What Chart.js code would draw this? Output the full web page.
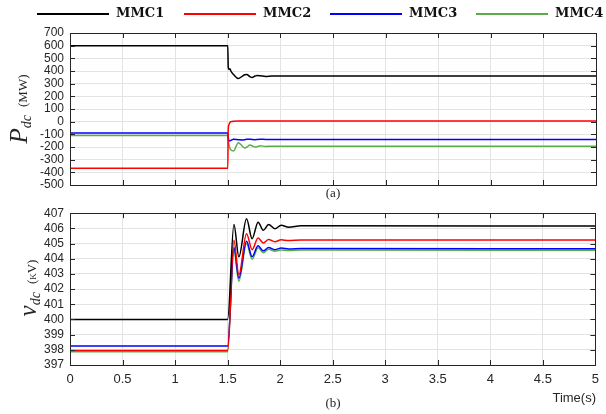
<!DOCTYPE html>
<html>
<head>
<meta charset="utf-8">
<script src="https://cdn.jsdelivr.net/npm/chart.js@4"></script>
<style>
  body { margin: 0; background: #fff; }
  #wrap { position: relative; width: 606px; height: 414px; overflow: hidden; }
  canvas { position: absolute; left: 0; }
  #topCanvas { top: 0; }
  #botCanvas { top: 200px; }
  .leg-line { position: absolute; height: 2px; top: 13px; width: 72px; }
  .leg-text { position: absolute; top: 5px; font: bold 13px "DejaVu Serif", serif; color: #111; }
  .ytitle { position: absolute; transform: translate(-50%, -50%) rotate(-90deg); white-space: nowrap;
            font-family: "Liberation Serif", serif; color: #262626; line-height: 1; }
  .ytitle .big { font-size: 25px; font-style: italic; }
  .ytitle sub { font-size: 14px; font-style: italic; vertical-align: -4px; }
  .ytitle .unit { font-size: 13px; font-variant: small-caps; margin-left: 8px; }
  .cap { position: absolute; font: 13px "Liberation Serif", serif; color: #262626; transform: translate(-50%, -50%); }
  #timeLbl { position: absolute; right: 10px; top: 390px; font: 13px "Liberation Sans", sans-serif; color: #262626; }
</style>
</head>
<body>
<div id="wrap">
  <canvas id="topCanvas" width="606" height="200"></canvas>
  <canvas id="botCanvas" width="606" height="214"></canvas>

  <div id="legend"></div>

  <div class="ytitle" style="left:20px; top:109px;"><span class="big">P</span><sub>dc</sub><span class="unit">(MW)</span></div>
  <div class="ytitle" style="left:29px; top:288px;"><span class="big">v</span><sub>dc</sub><span class="unit">(kV)</span></div>

  <div class="cap" style="left:333px; top:193px;">(a)</div>
  <div class="cap" style="left:333px; top:403px;">(b)</div>
  <div id="timeLbl">Time(s)</div>
</div>

<script>
// series names and colours
const names = ['MMC1', 'MMC2', 'MMC3', 'MMC4'];
const colors = ['#000000', '#ff0000', '#0000ff', '#5aae48'];

// (a) DC power, MW
const timeP = [0, 1.5, 1.504, 1.51, 1.52, 1.53, 1.555, 1.6, 1.64, 1.66, 1.68, 1.71, 1.73, 1.76, 1.78, 1.81, 1.86, 1.92, 2.0, 5];
const pMMC1 = [600, 600, 430, 412, 418, 398, 372, 341, 360, 370, 373, 356, 349, 360, 365, 362, 357, 361, 360, 360];
const pMMC2 = [-368, -368, -60, -25, -6, 0, 4, 5, 5, 5, 5, 5, 5, 5, 5, 5, 5, 5, 5, 5];
const pMMC3 = [-90, -90, -125, -148, -152, -148, -139, -142, -144, -142, -139, -138, -141, -142, -140, -139, -140, -140, -140, -140];
const pMMC4 = [-110, -110, -150, -180, -210, -224, -231, -166, -195, -207, -201, -185, -190, -200, -197, -190, -196, -194, -195, -195];

// (b) DC voltage, kV
const timeV = [0, 1.5, 1.56, 1.607, 1.68, 1.733, 1.79, 1.84, 1.89, 1.95, 2.01, 2.08, 2.2, 5];
const vMMC1 = [400, 400, 406.26, 404.13, 406.63, 405.32, 406.41, 405.87, 406.26, 405.98, 406.2, 406.08, 406.18, 406.15];
const vMMC2 = [397.95, 397.95, 405.22, 402.94, 405.65, 404.6, 405.37, 405.04, 405.26, 405.12, 405.25, 405.2, 405.24, 405.23];
const vMMC3 = [398.25, 398.25, 404.74, 402.72, 405.15, 404.13, 404.85, 404.52, 404.74, 404.6, 404.7, 404.64, 404.67, 404.66];
const vMMC4 = [397.88, 397.88, 404.6, 402.52, 405.0, 403.97, 404.72, 404.4, 404.62, 404.5, 404.58, 404.54, 404.57, 404.56];

// axis ranges
const xTicks = { min: 0, max: 5, step: 0.5 };
const pTicks = { min: -500, max: 700, step: 100 };
const vTicks = { min: 397, max: 407, step: 1 };

// html legend (lines + bold labels)
const legendPos = [37, 184, 330, 476];
const legend = document.getElementById('legend');
names.forEach((n, i) => {
    const line = document.createElement('div');
    line.className = 'leg-line';
    line.style.left = legendPos[i] + 'px';
    line.style.background = colors[i];
    legend.appendChild(line);
    const txt = document.createElement('div');
    txt.className = 'leg-text';
    txt.style.left = (legendPos[i] + 79) + 'px';
    txt.textContent = n;
    legend.appendChild(txt);
});

function makeSets(time, series) {
    return series.map((vals, i) => ({
        label: names[i],
        data: time.map((t, k) => ({ x: t, y: vals[k] })),
        borderColor: colors[i],
        borderWidth: 1.5,
        pointRadius: 0,
        fill: false,
        cubicInterpolationMode: 'monotone'
    }));
}

// box around the plot + matlab style inward ticks on all sides
const boxPlugin = {
    id: 'box',
    afterDraw(chart) {
        const c = chart.ctx, a = chart.chartArea;
        const xs = chart.scales.x, ys = chart.scales.y;
        c.save();
        c.strokeStyle = '#262626';
        c.lineWidth = 1;
        c.beginPath();
        xs.ticks.forEach(t => {
            const px = Math.round(xs.getPixelForValue(t.value)) + 0.5;
            c.moveTo(px, a.bottom); c.lineTo(px, a.bottom - 5);
            c.moveTo(px, a.top); c.lineTo(px, a.top + 5);
        });
        ys.ticks.forEach(t => {
            const py = Math.round(ys.getPixelForValue(t.value)) + 0.5;
            c.moveTo(a.left, py); c.lineTo(a.left + 5, py);
            c.moveTo(a.right, py); c.lineTo(a.right - 5, py);
        });
        c.stroke();
        c.strokeRect(Math.round(a.left) + 0.5, Math.round(a.top) + 0.5,
                     Math.round(a.right - a.left), Math.round(a.bottom - a.top));
        c.restore();
    }
};

function makeChart(canvasId, time, series, yT, showX, padTop, xHeight) {
    return new Chart(document.getElementById(canvasId), {
        type: 'line',
        data: { datasets: makeSets(time, series) },
        options: {
            responsive: false,
            animation: false,
            layout: { padding: { top: padTop, right: 10, left: 0, bottom: 0 } },
            plugins: { legend: { display: false }, tooltip: { enabled: false } },
            scales: {
                x: {
                    type: 'linear',
                    min: xTicks.min, max: xTicks.max,
                    afterFit: s => { s.height = xHeight; },
                    ticks: {
                        display: showX,
                        stepSize: xTicks.step,
                        autoSkip: false,
                        maxRotation: 0,
                        padding: 7,
                        color: '#262626',
                        font: { family: 'Liberation Sans', size: 13 },
                        callback: v => String(Math.round(v * 10) / 10)
                    },
                    grid: { color: '#e3e3e3', drawTicks: false },
                    border: { display: false }
                },
                y: {
                    min: yT.min, max: yT.max,
                    afterFit: s => { s.width = 70; },
                    ticks: {
                        stepSize: yT.step,
                        autoSkip: false,
                        padding: 6,
                        color: '#262626',
                        font: { family: 'Liberation Sans', size: 12 },
                        callback: v => String(v)
                    },
                    grid: { color: '#e3e3e3', drawTicks: false },
                    border: { display: false }
                }
            }
        },
        plugins: [boxPlugin]
    });
}

makeChart('topCanvas', timeP, [pMMC1, pMMC2, pMMC3, pMMC4], pTicks, false, 33, 15);
makeChart('botCanvas', timeV, [vMMC1, vMMC2, vMMC3, vMMC4], vTicks, true, 11, 49);
</script>
</body>
</html>
